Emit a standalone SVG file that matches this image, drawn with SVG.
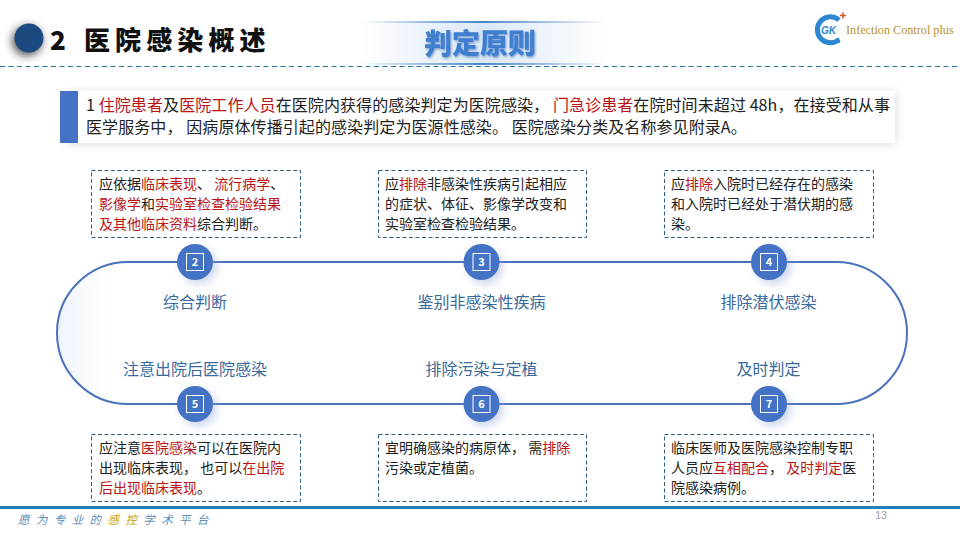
<svg xmlns="http://www.w3.org/2000/svg" width="960" height="540" viewBox="0 0 960 540">
<style>
text{font-family:"Microsoft YaHei","Noto Sans CJK SC","Noto Sans",sans-serif}
.b{font-size:16px;fill:#222;letter-spacing:.09px}
.s{font-size:14px;fill:#222}
.r{fill:#b81414}
.box{fill:#fff;stroke:#2f6088;stroke-width:1;stroke-dasharray:4 2.5}
.dash{stroke:#1f6f9f;stroke-width:1.2;stroke-dasharray:5 3.5;fill:none}
.lbl{font-size:16px;fill:#3a6a9c;text-anchor:middle}
.c{fill:#4472c4}
.sq{fill:none;stroke:#fff;stroke-width:1}
.n{font-size:11px;font-weight:700;fill:#fff;text-anchor:middle}
.foot{font-size:11.5px;font-style:italic;fill:#5b8db8;letter-spacing:6.4px}
</style>
<defs>
<filter id="soft" x="-50%" y="-50%" width="200%" height="200%"><feGaussianBlur stdDeviation="4"/></filter>
<filter id="soft2" x="-10%" y="-30%" width="120%" height="160%"><feGaussianBlur stdDeviation="5"/></filter>
<filter id="ts" x="-10%" y="-10%" width="120%" height="130%"><feDropShadow dx="1" dy="1.5" stdDeviation="0.8" flood-color="#1f5fa8" flood-opacity=".55"/></filter>
<linearGradient id="fade" x1="0" x2="1" y1="0" y2="0"><stop offset="0" stop-color="#dbe8f6" stop-opacity="0"/><stop offset=".5" stop-color="#dbe8f6"/><stop offset="1" stop-color="#dbe8f6" stop-opacity="0"/></linearGradient>
<linearGradient id="line" x1="0" x2="1" y1="0" y2="0"><stop offset="0" stop-color="#4a86c8" stop-opacity="0"/><stop offset=".5" stop-color="#4a86c8"/><stop offset="1" stop-color="#4a86c8" stop-opacity="0"/></linearGradient>
<linearGradient id="pillfill" x1="0" x2="1" y1="0" y2="0"><stop offset="0" stop-color="#eef3fb"/><stop offset=".06" stop-color="#fff"/></linearGradient>
</defs>

<g id="header">
<circle cx="27" cy="41" r="15" fill="#222" opacity=".75" filter="url(#soft)"/>
<circle cx="29" cy="38" r="14.500" fill="#1b4a80"/>
<text x="50" y="50" font-size="26" font-weight="900" fill="#111">2</text>
<text x="84" y="50" font-size="26" font-weight="900" fill="#111" letter-spacing="5.100">医院感染概述</text>
<path class="dash" d="M0 66.500H960"/>
</g>

<g id="title-banner">
<rect x="360" y="22" width="245" height="42" fill="url(#fade)"/>
<rect x="360" y="21" width="245" height="2" fill="url(#line)"/>
<rect x="360" y="63" width="245" height="2" fill="url(#line)"/>
<text x="480" y="54" font-size="28" font-weight="900" fill="#3f7fd0" text-anchor="middle" filter="url(#ts)">判定原则</text>
</g>

<g id="logo">
<path d="M839 20A13 13 0 1 0 839 39.500" fill="none" stroke="#2a87d0" stroke-width="5"/>
<path d="M830 45l9-7.500 1 5z" fill="#2a87d0"/>
<text x="821" y="34" font-size="10" font-weight="700" fill="#2a87d0" font-style="italic" style="font-family:'Liberation Sans',sans-serif">GK</text>
<path d="M840 15.500h6M843 12.500v6" stroke="#e0532a" stroke-width="1.600"/>
<text x="846" y="34" font-size="12.200" fill="#b8912a" style="font-family:'Liberation Serif',serif">Infection Control plus</text>
</g>

<g id="intro">
<rect x="66" y="92" width="830" height="52" fill="#888" opacity=".28" filter="url(#soft2)"/>
<rect x="60" y="91" width="835" height="52" fill="#fff"/>
<rect x="60" y="91" width="18" height="52" fill="#4472c4"/>
<text class="b" x="86" y="111">1 <tspan class="r">住院患者</tspan>及<tspan class="r">医院工作人员</tspan>在医院内获得的感染判定为医院感染， <tspan class="r">门急诊患者</tspan>在院时间未超过 48h，在接受和从事</text>
<text class="b" x="86" y="133" xml:space="preserve">医学服务中， 因病原体传播引起的感染判定为医源性感染。 医院感染分类及名称参见附录A。</text>
</g>

<g id="connectors">
<rect x="57" y="262" width="850" height="142" rx="71" ry="71" fill="url(#pillfill)" stroke="#4a72bc" stroke-width="2"/>
</g>

<g id="node-2">
<rect class="box" x="91.500" y="170.500" width="209" height="67"/>
<text class="s" x="99" y="189">应依据<tspan class="r">临床表现</tspan>、 <tspan class="r">流行病学</tspan>、</text>
<text class="s" x="99" y="209"><tspan class="r">影像学</tspan>和<tspan class="r">实验室检查检验结果</tspan></text>
<text class="s" x="99" y="229"><tspan class="r">及其他临床资料</tspan>综合判断。</text>
<circle cx="199" cy="266" r="18" fill="#8ea6d8" opacity=".45" filter="url(#soft)"/>
<circle class="c" cx="195" cy="262" r="18"/>
<rect class="sq" x="186.500" y="253.500" width="17" height="17"/>
<text class="n" x="195" y="266">2</text>
<text class="lbl" x="195" y="308">综合判断</text>
</g>

<g id="node-3">
<rect class="box" x="378.500" y="170.500" width="208" height="67"/>
<text class="s" x="385" y="189">应<tspan class="r">排除</tspan>非感染性疾病引起相应</text>
<text class="s" x="385" y="209">的症状、体征、影像学改变和</text>
<text class="s" x="385" y="229">实验室检查检验结果。</text>
<circle cx="485" cy="266" r="18" fill="#8ea6d8" opacity=".45" filter="url(#soft)"/>
<circle class="c" cx="481.500" cy="262" r="18"/>
<rect class="sq" x="473" y="253.500" width="17" height="17"/>
<text class="n" x="481.500" y="266">3</text>
<text class="lbl" x="481.500" y="308">鉴别非感染性疾病</text>
</g>

<g id="node-4">
<rect class="box" x="664.500" y="170.500" width="209" height="67"/>
<text class="s" x="671" y="189">应<tspan class="r">排除</tspan>入院时已经存在的感染</text>
<text class="s" x="671" y="209">和入院时已经处于潜伏期的感</text>
<text class="s" x="671" y="229">染。</text>
<circle cx="773" cy="266" r="18" fill="#8ea6d8" opacity=".45" filter="url(#soft)"/>
<circle class="c" cx="769" cy="262" r="18"/>
<rect class="sq" x="760.500" y="253.500" width="17" height="17"/>
<text class="n" x="769" y="266">4</text>
<text class="lbl" x="768.500" y="308">排除潜伏感染</text>
</g>

<g id="node-5">
<circle cx="199" cy="408" r="18" fill="#8ea6d8" opacity=".45" filter="url(#soft)"/>
<circle class="c" cx="195" cy="404" r="18"/>
<rect class="sq" x="186.500" y="395.500" width="17" height="17"/>
<text class="n" x="195" y="408">5</text>
<text class="lbl" x="195" y="375">注意出院后医院感染</text>
<rect class="box" x="91.500" y="434.500" width="209" height="67"/>
<text class="s" x="99" y="453">应注意<tspan class="r">医院感染</tspan>可以在医院内</text>
<text class="s" x="99" y="473" xml:space="preserve">出现临床表现， 也可以<tspan class="r">在出院</tspan></text>
<text class="s" x="99" y="493"><tspan class="r">后出现临床表现</tspan>。</text>
</g>

<g id="node-6">
<circle cx="485" cy="408" r="18" fill="#8ea6d8" opacity=".45" filter="url(#soft)"/>
<circle class="c" cx="481.500" cy="404" r="18"/>
<rect class="sq" x="473" y="395.500" width="17" height="17"/>
<text class="n" x="481.500" y="408">6</text>
<text class="lbl" x="481.500" y="375">排除污染与定植</text>
<rect class="box" x="378.500" y="434.500" width="208" height="67"/>
<text class="s" x="385" y="453" xml:space="preserve">宜明确感染的病原体， 需<tspan class="r">排除</tspan></text>
<text class="s" x="385" y="473">污染或定植菌。</text>
</g>

<g id="node-7">
<circle cx="773" cy="408" r="18" fill="#8ea6d8" opacity=".45" filter="url(#soft)"/>
<circle class="c" cx="769" cy="404" r="18"/>
<rect class="sq" x="760.500" y="395.500" width="17" height="17"/>
<text class="n" x="769" y="408">7</text>
<text class="lbl" x="768.500" y="375">及时判定</text>
<rect class="box" x="664.500" y="434.500" width="209" height="67"/>
<text class="s" x="671" y="453">临床医师及医院感染控制专职</text>
<text class="s" x="671" y="473" xml:space="preserve">人员应<tspan class="r">互相配合</tspan>， <tspan class="r">及时判定</tspan>医</text>
<text class="s" x="671" y="493">院感染病例。</text>
</g>

<g id="footer">
<rect x="0" y="506" width="960" height="3" fill="#1f7fb8"/>
<text class="foot" x="18" y="524">愿为专业的<tspan fill="#c9a400">感控</tspan>学术平台</text>
<text x="881" y="519" font-size="10.500" fill="#999" text-anchor="middle" style="font-family:'Liberation Sans',sans-serif">13</text>
</g>
</svg>
